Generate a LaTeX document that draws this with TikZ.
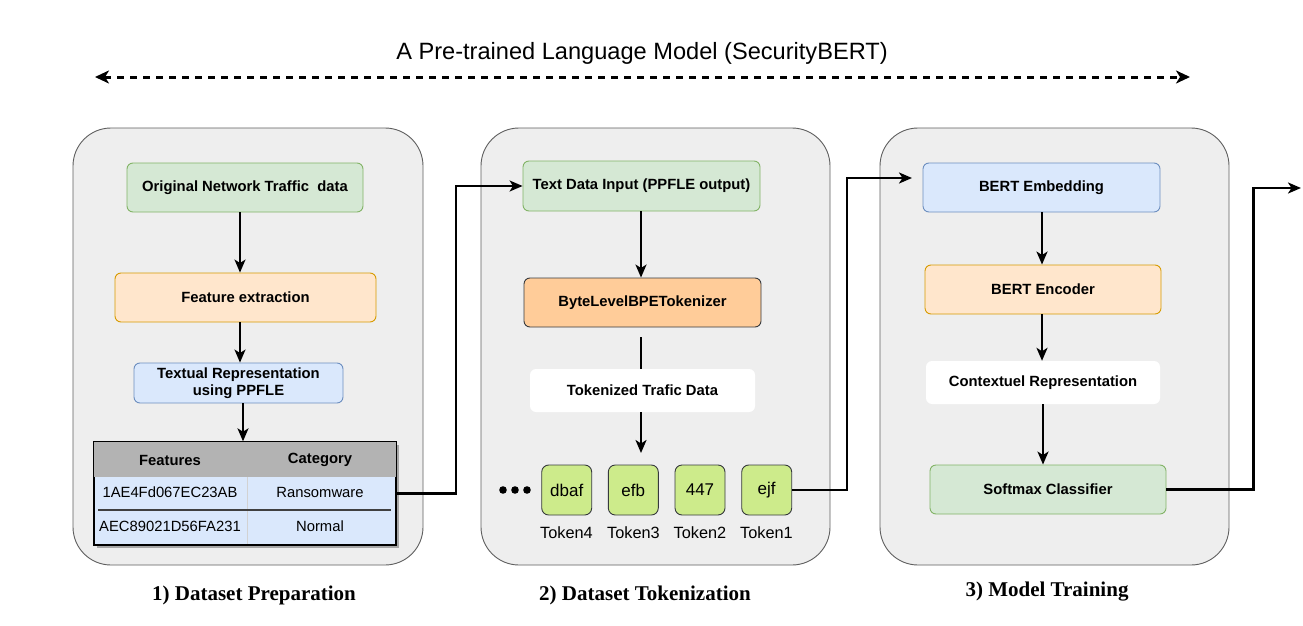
\documentclass[tikz,border=0pt]{standalone}
\usepackage{fontspec}
\setmainfont{Liberation Sans}
\newfontfamily\serifb{Liberation Serif}
\usetikzlibrary{arrows.meta,shadows}
\definecolor{greenF}{HTML}{D5E8D4}\definecolor{greenD}{HTML}{82B366}
\definecolor{orangeF}{HTML}{FFE6CC}\definecolor{orangeD}{HTML}{D79B00}
\definecolor{blueF}{HTML}{DAE8FC}\definecolor{blueD}{HTML}{6C8EBF}
\definecolor{bpeF}{HTML}{FFCC99}\definecolor{darkD}{HTML}{36393D}
\definecolor{tokF}{HTML}{CDEB8B}\definecolor{panelF}{HTML}{EEEEEE}
\definecolor{panelD}{HTML}{5F5F5F}\definecolor{headF}{HTML}{B3B3B3}
\begin{document}
\begin{tikzpicture}[x=1pt,y=-1pt,
  panel/.style={draw=panelD,fill=panelF,line width=0.9pt,rounded corners=38pt},
  box/.style={draw,rounded corners=6pt,line width=0.9pt,inner sep=0pt,align=center,
    font=\bfseries\fontsize{14.8}{17.5}\selectfont},
  plain/.style={fill=white,rounded corners=6pt,inner sep=0pt,align=center,
    font=\bfseries\fontsize{14.8}{17.5}\selectfont},
  tok/.style={draw=darkD,fill=tokF,rounded corners=7pt,line width=0.9pt,inner sep=0pt,
    minimum width=50pt,minimum height=50pt,font=\fontsize{17}{20}\selectfont},
  toklab/.style={font=\fontsize{16.3}{19}\selectfont,inner sep=0pt},
  cell/.style={font=\fontsize{14.8}{17.5}\selectfont,inner sep=0pt},
  arr/.style={line width=2.2pt,-{Stealth[length=13pt,width=11pt,inset=3.5pt]}},
  ln/.style={line width=2.2pt},
  steplab/.style={font=\serifb\bfseries\fontsize{21}{25}\selectfont,inner sep=0pt}]
\useasboundingbox (0,0) rectangle (1303,626);
\fill[white] (0,0) rectangle (1303,626);

% title and dashed arrow
\node[font=\fontsize{23.6}{28}\selectfont,inner sep=0pt] (title) at (642,53) {A Pre-trained Language Model (SecurityBERT)};
\coordinate (la) at (95,77);
\coordinate (lb) at (1190,77);
\draw[line width=3pt,dash pattern=on 7pt off 6pt,{Stealth[length=14pt,width=13pt,inset=4pt]}-{Stealth[length=14pt,width=13pt,inset=4pt]}] (la) -- (lb);

% panels
\draw[panel] (73,128) rectangle (423,565);
\draw[panel] (481,128) rectangle (830,565);
\draw[panel] (880,128) rectangle (1229,565);

% panel 1
\node[box,draw=greenD,fill=greenF,minimum width=236pt,minimum height=49pt] (n1) at (245,187.5) {Original Network Traffic\ \ data};
\node[box,draw=orangeD,fill=orangeF,minimum width=261pt,minimum height=49pt] (n2) at (245.5,297.5) {Feature extraction};
\node[box,draw=blueD,fill=blueF,minimum width=209pt,minimum height=40pt] (n3) at (238.5,383) {Textual Representation\\using PPFLE};

\node[draw=black,line width=1.4pt,fill=blueF,minimum width=302pt,minimum height=103pt,inner sep=0pt,
  drop shadow={shadow xshift=3pt,shadow yshift=-3pt,fill=gray!70,opacity=1}] (tbl) at (245,493.5) {};
\fill[headF] ([shift={(0.7,0.7)}]tbl.north west) rectangle ([xshift=-0.7pt]tbl.north east |- 0,477);
\draw[gray!35,line width=0.5pt] (247,477) -- (247,544);
\draw[black!75,line width=1.8pt] (98,510) -- (391,510);
\draw[black,line width=1.4pt] (tbl.north west) rectangle (tbl.south east);
\node[cell,font=\bfseries\fontsize{14.8}{17.5}\selectfont] (h1) at (170,460) {Features};
\node[cell,font=\bfseries\fontsize{14.8}{17.5}\selectfont] (h2) at (320,460) {Category};
\node[cell] (c11) at (170,492) {1AE4Fd067EC23AB};
\node[cell] (c12) at (320,492) {Ransomware};
\node[cell] (c21) at (170,526) {AEC89021D56FA231};
\node[cell] (c22) at (320,526) {Normal};

\draw[arr] ([xshift=-5pt]n1.south) -- ([xshift=-5pt]n1.south |- n2.north);
\draw[arr] ([xshift=-5.5pt]n2.south) -- ([xshift=-5.5pt]n2.south |- n3.north);
\draw[arr] ([xshift=4.5pt]n3.south) -- ([xshift=4.5pt]n3.south |- tbl.north);

% panel 2
\node[box,draw=greenD,fill=greenF,minimum width=237pt,minimum height=50pt] (m1) at (641.5,186) {Text Data Input (PPFLE output)};
\node[box,draw=darkD,fill=bpeF,minimum width=237pt,minimum height=49pt] (m2) at (642.5,302.5) {ByteLevelBPETokenizer};
\node[plain,minimum width=225pt,minimum height=43pt] (m3) at (642.5,390.5) {Tokenized Trafic Data};

\node[tok] (t4) at (566.7,490) {dbaf};
\node[tok] (t3) at (633.3,490) {efb};
\node[tok] (t2) at (700,490) {447};
\node[tok] (t1) at (766.7,490) {ejf};
\node[toklab] (l4) at (566.5,533) {Token4};
\node[toklab] (l3) at (633.5,533) {Token3};
\node[toklab] (l2) at (700,533) {Token2};
\node[toklab] (l1) at (766.5,533) {Token1};
\fill (503,490) circle (3.8pt) (515,490) circle (3.8pt) (527,490) circle (3.8pt);

\coordinate (m2b) at (641,337);
\coordinate (tkt) at (641,453);
\draw[arr] (m1.south -| 641,0) -- (m2.north -| 641,0);
\draw[ln] (m2b) -- (m3.north -| m2b);
\draw[arr] (m3.south -| tkt) -- (tkt);

% panel 3
\node[box,draw=blueD,fill=blueF,minimum width=237pt,minimum height=49pt] (r1) at (1041.5,187.5) {BERT Embedding};
\node[box,draw=orangeD,fill=orangeF,minimum width=236pt,minimum height=49pt] (r2) at (1043,289.5) {BERT Encoder};
\node[plain,minimum width=234pt,minimum height=43pt] (r3) at (1043,382.5) {Contextuel Representation};
\node[box,draw=greenD,fill=greenF,minimum width=236pt,minimum height=49pt] (r4) at (1048,489.5) {Softmax Classifier};

\draw[arr] (r1.south -| 1042,0) -- (r2.north -| 1042,0);
\draw[arr] (r2.south -| 1042,0) -- (r3.north -| 1042,0);
\draw[arr] (r3.south -| 1043,0) -- (r4.north -| 1043,0);

% connectors between panels
\draw[arr] (tbl.east) -- ++(59,0) |- (m1.west);
\coordinate (e1) at (912,178);
\draw[arr] (t1.east) -- ++(55,0) |- (e1);
\coordinate (out) at (1301,188);
\draw[arr] (r4.east) -- ++(87,0) |- (out);

% step labels
\node[steplab] (s1) at (254,595) {1) Dataset Preparation};
\node[steplab] (s2) at (645,595) {2) Dataset Tokenization};
\node[steplab] (s3) at (1047,592) {3) Model Training};
\end{tikzpicture}
\end{document}
